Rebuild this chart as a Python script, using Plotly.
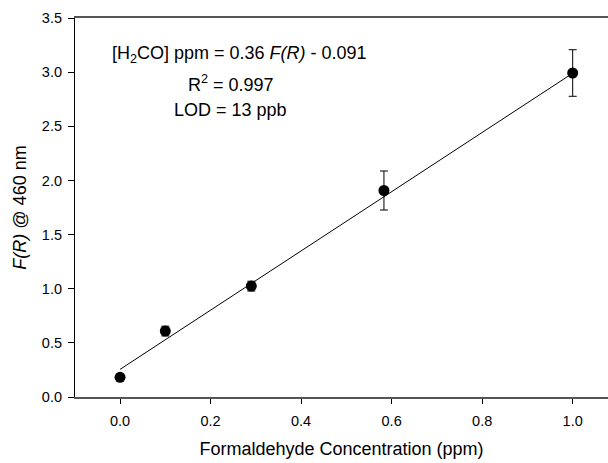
import plotly.graph_objects as go

# Calibration standards: formaldehyde concentration (ppm) vs. Kubelka-Munk F(R) at 460 nm
conc_ppm = [0.0, 0.10, 0.29, 0.583, 1.0]
f_r = [0.182, 0.609, 1.024, 1.907, 2.992]
f_r_err = [0.03, 0.045, 0.045, 0.18, 0.215]

# Linear calibration fit
fit_x = [0.0, 1.0]
fit_y = [0.255, 2.99]

x_ticks = [0.0, 0.2, 0.4, 0.6, 0.8, 1.0]
y_ticks = [0.0, 0.5, 1.0, 1.5, 2.0, 2.5, 3.0, 3.5]

FONT = "Liberation Sans, Arial, sans-serif"

fig = go.Figure()
fig.add_trace(go.Scatter(
    x=fit_x, y=fit_y, mode="lines",
    line=dict(color="black", width=1), showlegend=False,
))
fig.add_trace(go.Scatter(
    x=conc_ppm, y=f_r, mode="markers",
    marker=dict(color="black", size=11),
    error_y=dict(type="data", array=f_r_err, color="black", thickness=1, width=4),
    showlegend=False,
))

annot = dict(xref="paper", yref="paper", showarrow=False,
             font=dict(family=FONT, size=18, color="black"), xanchor="center", yanchor="middle")
fig.add_annotation(x=0.308, y=0.905, text="[H<sub>2</sub>CO] ppm = 0.36 <i>F(R)</i> - 0.091", **annot)
fig.add_annotation(x=0.293, y=0.828, text="R<sup>2</sup> = 0.997", **annot)
fig.add_annotation(x=0.291, y=0.757, text="LOD = 13 ppb", **annot)

fig.update_layout(
    width=608, height=463,
    margin=dict(l=75, r=0, t=18, b=66),
    plot_bgcolor="white", paper_bgcolor="white",
    font=dict(family=FONT, size=14.5, color="black"),
    xaxis=dict(
        range=[-0.0995, 1.078], tickvals=x_ticks, ticktext=[f"{v:.1f}" for v in x_ticks],
        ticks="outside", ticklen=5, tickcolor="black", ticklabelstandoff=5,
        showgrid=False, zeroline=False,
        showline=True, linecolor="#555", linewidth=1.5, mirror=True,
        title=dict(text="Formaldehyde Concentration (ppm)", font=dict(size=18), standoff=14),
    ),
    yaxis=dict(
        range=[0, 3.5], tickvals=y_ticks, ticktext=[f"{v:.1f}" for v in y_ticks],
        ticks="outside", ticklen=6, tickcolor="black", ticklabelstandoff=3,
        showgrid=False, zeroline=False,
        showline=True, linecolor="black", linewidth=1.2,
        title=dict(text="<i>F(R)</i> @ 460 nm", font=dict(size=18), standoff=10),
    ),
)

fig.write_html("out.html")
